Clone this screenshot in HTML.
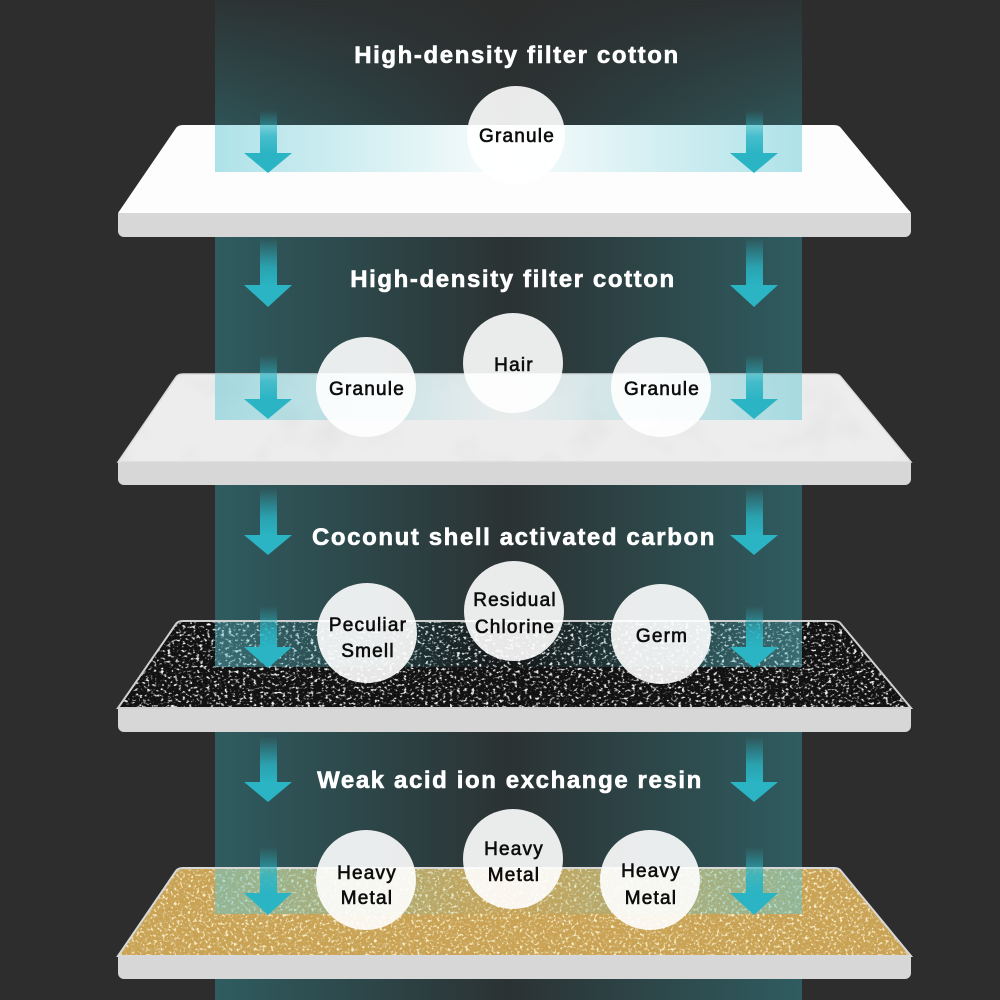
<!DOCTYPE html>
<html><head><meta charset="utf-8"><style>
html,body{margin:0;padding:0;background:#2d2d2d;}
svg{display:block;}
</style></head><body>
<svg width="1000" height="1000" viewBox="0 0 1000 1000" xmlns="http://www.w3.org/2000/svg">
<defs>
  <linearGradient id="colH" x1="0" y1="0" x2="1" y2="0">
    <stop offset="0" stop-color="#2f5c60"/>
    <stop offset="0.5" stop-color="#2b3233"/>
    <stop offset="1" stop-color="#2f5c60"/>
  </linearGradient>
  <linearGradient id="colV" x1="0" y1="0" x2="0" y2="1">
    <stop offset="0" stop-color="#fff" stop-opacity="0.15"/>
    <stop offset="0.16" stop-color="#fff" stop-opacity="1"/>
    <stop offset="1" stop-color="#fff" stop-opacity="1"/>
  </linearGradient>
  <mask id="colMask" maskUnits="userSpaceOnUse" x="0" y="0" width="1000" height="1000">
    <rect x="215" y="0" width="587" height="1000" fill="url(#colV)"/>
  </mask>
  <linearGradient id="ovl" x1="0" y1="0" x2="1" y2="0">
    <stop offset="0" stop-color="#5fc8d4" stop-opacity="0.5"/>
    <stop offset="0.5" stop-color="#5fc8d4" stop-opacity="0.02"/>
    <stop offset="1" stop-color="#5fc8d4" stop-opacity="0.5"/>
  </linearGradient>
  <linearGradient id="shaft" x1="0" y1="0" x2="0" y2="1">
    <stop offset="0" stop-color="#2ab4c4" stop-opacity="0"/>
    <stop offset="0.6" stop-color="#2ab4c4" stop-opacity="0.8"/>
    <stop offset="1" stop-color="#2ab4c4" stop-opacity="1"/>
  </linearGradient>
  <filter id="fWhite" x="0" y="0" width="1" height="1">
    <feTurbulence type="fractalNoise" baseFrequency="0.28 0.38" numOctaves="2" seed="4"/>
    <feColorMatrix type="matrix" values="0 0 0 0 0.9  0 0 0 0 0.9  0 0 0 0 0.9  5 0 0 0 -2.75"/>
  </filter>
  <filter id="fGoldL" x="0" y="0" width="1" height="1">
    <feTurbulence type="fractalNoise" baseFrequency="0.35" numOctaves="2" seed="7"/>
    <feColorMatrix type="matrix" values="0 0 0 0 0.98  0 0 0 0 0.9  0 0 0 0 0.62  5 0 0 0 -2.75"/>
  </filter>
  <filter id="fGoldD" x="0" y="0" width="1" height="1">
    <feTurbulence type="fractalNoise" baseFrequency="0.3" numOctaves="2" seed="11"/>
    <feColorMatrix type="matrix" values="0 0 0 0 0.6  0 0 0 0 0.45  0 0 0 0 0.18  5 0 0 0 -2.9"/>
  </filter>
  <filter id="fMarble" x="0" y="0" width="1" height="1">
    <feTurbulence type="fractalNoise" baseFrequency="0.02" numOctaves="3" seed="5"/>
    <feColorMatrix type="matrix" values="0 0 0 0 0.7  0 0 0 0 0.7  0 0 0 0 0.7  -1 0 0 0 0.5"/>
  </filter>
  <clipPath id="cp2"><path d="M118 462 L176 377 Q178 374 183 374 L834 374 Q839 374 841 377 L911 462 Z"/></clipPath>
  <clipPath id="cp3"><path d="M118 708 L176 624 Q178 621 183 621 L834 621 Q839 621 841 624 L911 708 Z"/></clipPath>
  <clipPath id="cp4"><path d="M118 956 L176 871 Q178 868 183 868 L834 868 Q839 868 841 871 L911 956 Z"/></clipPath>
</defs>

<rect x="0" y="0" width="1000" height="1000" fill="#2d2d2d"/>
<rect x="215" y="0" width="587" height="1000" fill="url(#colH)" mask="url(#colMask)"/>

<!-- Plate 1 -->
<rect x="118" y="209" width="793" height="28" rx="6" fill="#d7d7d7"/>
<path d="M118 213 L176 128 Q178 125 183 125 L834 125 Q839 125 841 128 L911 213 Z" fill="#fdfdfd"/>
<rect x="215" y="125" width="587" height="47" fill="url(#ovl)"/>

<!-- Plate 2 -->
<rect x="118" y="458" width="793" height="27" rx="6" fill="#d7d7d7"/>
<g clip-path="url(#cp2)">
  <rect x="110" y="370" width="810" height="95" fill="#ededed"/>
  <rect x="110" y="370" width="810" height="95" filter="url(#fMarble)"/>
</g>
<path d="M118 462 L176 377 Q178 374 183 374 L834 374 Q839 374 841 377 L911 462 Z" fill="none" stroke="#dadada" stroke-width="1.5"/>
<rect x="215" y="374" width="587" height="46" fill="url(#ovl)"/>

<!-- Plate 3 -->
<rect x="118" y="704" width="793" height="28" rx="6" fill="#d7d7d7"/>
<g clip-path="url(#cp3)">
  <rect x="110" y="617" width="810" height="95" fill="#121212"/>
  <rect x="110" y="617" width="810" height="95" filter="url(#fWhite)"/>
</g>
<path d="M118 708 L176 624 Q178 621 183 621 L834 621 Q839 621 841 624 L911 708 Z" fill="none" stroke="#d0d0d0" stroke-width="2"/>
<rect x="215" y="622" width="587" height="45" fill="url(#ovl)"/>

<!-- Plate 4 -->
<rect x="118" y="952" width="793" height="27" rx="6" fill="#d7d7d7"/>
<g clip-path="url(#cp4)">
  <rect x="110" y="864" width="810" height="95" fill="#c9a254"/>
  <rect x="110" y="864" width="810" height="95" filter="url(#fGoldD)"/>
  <rect x="110" y="864" width="810" height="95" filter="url(#fGoldL)"/>
</g>
<path d="M118 956 L176 871 Q178 868 183 868 L834 868 Q839 868 841 871 L911 956 Z" fill="none" stroke="#d8d8d8" stroke-width="2"/>
<rect x="215" y="869" width="587" height="45" fill="url(#ovl)"/>

<!-- Arrows -->
<g>
  <rect x="260" y="110" width="17" height="44" fill="url(#shaft)"/>
  <polygon points="244,153 292,153 268,173" fill="#2ab4c4"/>
  <rect x="746" y="110" width="17" height="44" fill="url(#shaft)"/>
  <polygon points="730,153 778,153 754,173" fill="#2ab4c4"/>
  <rect x="260" y="238" width="17" height="48" fill="url(#shaft)"/>
  <polygon points="244,285 292,285 268,307" fill="#2ab4c4"/>
  <rect x="746" y="238" width="17" height="48" fill="url(#shaft)"/>
  <polygon points="730,285 778,285 754,307" fill="#2ab4c4"/>
  <rect x="260" y="355" width="17" height="45" fill="url(#shaft)"/>
  <polygon points="244,399 292,399 268,419" fill="#2ab4c4"/>
  <rect x="746" y="355" width="17" height="45" fill="url(#shaft)"/>
  <polygon points="730,399 778,399 754,419" fill="#2ab4c4"/>
  <rect x="260" y="488" width="17" height="48" fill="url(#shaft)"/>
  <polygon points="244,535 292,535 268,555" fill="#2ab4c4"/>
  <rect x="746" y="488" width="17" height="48" fill="url(#shaft)"/>
  <polygon points="730,535 778,535 754,555" fill="#2ab4c4"/>
  <rect x="260" y="606" width="17" height="42" fill="url(#shaft)"/>
  <polygon points="244,647 292,647 268,668" fill="#2ab4c4"/>
  <rect x="746" y="606" width="17" height="42" fill="url(#shaft)"/>
  <polygon points="730,647 778,647 754,668" fill="#2ab4c4"/>
  <rect x="260" y="737" width="17" height="46" fill="url(#shaft)"/>
  <polygon points="244,782 292,782 268,802" fill="#2ab4c4"/>
  <rect x="746" y="737" width="17" height="46" fill="url(#shaft)"/>
  <polygon points="730,782 778,782 754,802" fill="#2ab4c4"/>
  <rect x="260" y="847" width="17" height="47" fill="url(#shaft)"/>
  <polygon points="244,893 292,893 268,915" fill="#2ab4c4"/>
  <rect x="746" y="847" width="17" height="47" fill="url(#shaft)"/>
  <polygon points="730,893 778,893 754,915" fill="#2ab4c4"/>
</g>

<!-- Circles -->
<g fill="#ffffff" fill-opacity="0.9">
  <circle cx="516" cy="135" r="49"/>
  <circle cx="366" cy="387" r="50"/>
  <circle cx="513" cy="363" r="50"/>
  <circle cx="661" cy="387" r="50"/>
  <circle cx="367" cy="633" r="50"/>
  <circle cx="514" cy="611" r="50"/>
  <circle cx="661" cy="634" r="50"/>
  <circle cx="366" cy="880" r="50"/>
  <circle cx="513" cy="859" r="50"/>
  <circle cx="650" cy="880" r="50"/>
</g>

<!-- Labels -->
<g font-family="'Liberation Sans', Arial, sans-serif" font-size="19" fill="#0d0d0d" stroke="#0d0d0d" stroke-width="0.6" letter-spacing="1.2" text-anchor="middle">
  <text x="517" y="142">Granule</text>
  <text x="367" y="395">Granule</text>
  <text x="514" y="371">Hair</text>
  <text x="662" y="395">Granule</text>
  <text x="368" y="631">Peculiar</text>
  <text x="368" y="657">Smell</text>
  <text x="515" y="606">Residual</text>
  <text x="515" y="633">Chlorine</text>
  <text x="662" y="642">Germ</text>
  <text x="367" y="879">Heavy</text>
  <text x="367" y="904">Metal</text>
  <text x="514" y="855">Heavy</text>
  <text x="514" y="881">Metal</text>
  <text x="651" y="877">Heavy</text>
  <text x="651" y="904">Metal</text>
</g>

<!-- Titles -->
<g font-family="'Liberation Sans', Arial, sans-serif" font-size="24" font-weight="bold" fill="#ffffff" stroke="#ffffff" stroke-width="0.6" letter-spacing="1.6" text-anchor="middle">
  <text x="517" y="63">High-density filter cotton</text>
  <text x="513" y="287">High-density filter cotton</text>
  <text x="514" y="545">Coconut shell activated carbon</text>
  <text x="510" y="788">Weak acid ion exchange resin</text>
</g>
</svg>
</body></html>
